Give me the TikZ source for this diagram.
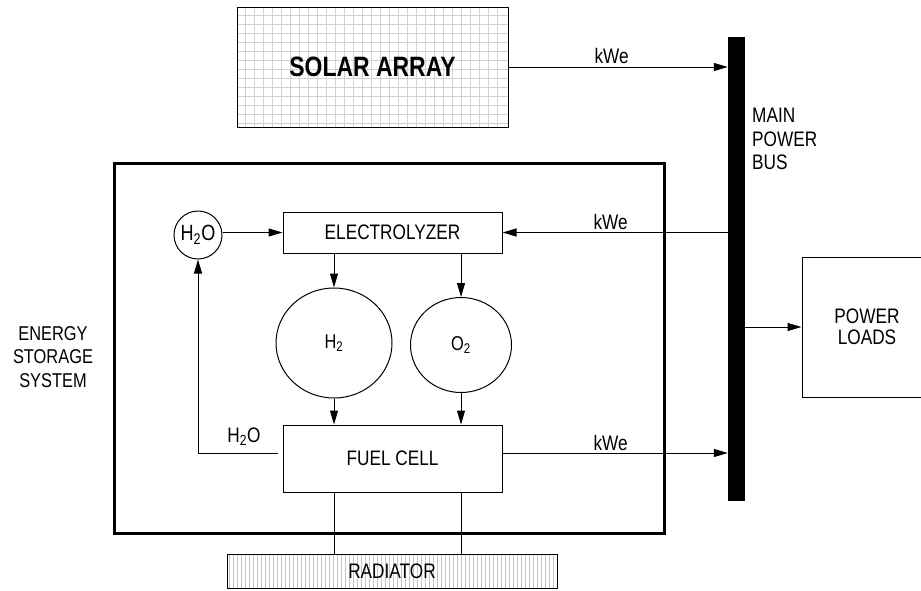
\documentclass[tikz,border=0pt]{standalone}
\usepackage{fontspec}
\setmainfont{Liberation Sans}[FakeStretch=0.82]
\usetikzlibrary{shapes.geometric, arrows.meta, positioning}
\tikzset{
  esblock/.style={rectangle, draw=black, line width=1pt, inner sep=0pt,
                  align=center, font=\fontsize{21}{23.5}\selectfont},
  esgas/.style={ellipse, draw=black, line width=1pt, inner sep=0pt,
                font=\fontsize{20}{22}\selectfont},
  esarrow/.style={-{Triangle[length=14pt,width=8pt]}, line width=1pt},
  eslink/.style={line width=1pt},
  eslabel/.style={inner sep=0pt, font=\fontsize{21}{23.5}\selectfont},
  esgrid/.style={gray!35, line width=0.8pt},
  eshatch/.style={gray!45, line width=0.6pt},
}

\begin{document}
\begin{tikzpicture}[x=1pt, y=-1pt]
  \useasboundingbox (0,0) rectangle (921,590);

  % Solar array
  \foreach \gx in {245,254,...,505} \draw[esgrid] (\gx,7) -- (\gx,127);
  \foreach \gy in {15,24,...,125} \draw[esgrid] (237,\gy) -- (508,\gy);
  \node[esblock, minimum width=271pt, minimum height=120pt,
        font=\fontsize{28}{30}\selectfont\bfseries] (solar) at (372.5,67) {SOLAR ARRAY};

  % Main power bus
  \node[rectangle, fill=black, minimum width=17pt, minimum height=464pt, inner sep=0pt] (bus) at (736.5,269) {};
  \node[eslabel, anchor=north west, align=left] (buslbl) at (752,108) {MAIN\\POWER\\BUS};

  % Power loads
  \node[esblock, minimum width=130pt, minimum height=140pt,
        font=\fontsize{21}{21}\selectfont] (loads) at (867,327) {POWER\\LOADS};

  % Energy storage system
  \node[rectangle, draw, line width=3pt, minimum width=550pt, minimum height=370pt] (ess) at (389,348) {};
  \node[eslabel, align=center, font=\fontsize{20}{23.5}\selectfont] (esslbl) at (53,357) {ENERGY\\STORAGE\\SYSTEM};

  \node[esblock, minimum width=219pt, minimum height=41pt] (elec) at (392.5,232.5) {ELECTROLYZER};
  \node[esblock, minimum width=219pt, minimum height=67pt] (fc) at (392.5,458.5) {FUEL CELL};
  \node[esgas, minimum width=116pt, minimum height=110pt] (h2) at (334,343) {H\textsubscript{2}};
  \node[esgas, minimum width=101pt, minimum height=95pt] (o2) at (461,345) {O\textsubscript{2}};
  \node[esgas, circle, minimum size=48pt, font=\fontsize{22}{24}\selectfont] (water) at (198,235) {H\textsubscript{2}O};

  % Radiator
  \foreach \hx in {229,233,...,555} \draw[eshatch] (\hx,554) -- (\hx,588);
  \node[esblock, minimum width=330pt, minimum height=34pt] (rad) at (392,571) {RADIATOR};

  % Power flows
  \draw[esarrow] (solar.east) -- (solar.east -| bus.west)
    node[eslabel, pos=0.47, above=3pt] (kwe1) {kWe};
  \draw[esarrow] (elec.east -| bus.west) -- (elec.east)
    node[eslabel, pos=0.52, above=2pt] (kwe2) {kWe};
  \coordinate (fcout) at ([yshift=5.5pt]fc.east);
  \coordinate (fcin) at ([yshift=5.5pt,xshift=-5pt]fc.west);
  \draw[esarrow] (fcout) -- (fcout -| bus.west)
    node[eslabel, pos=0.48, above=2pt] (kwe3) {kWe};
  \draw[esarrow] (bus.east |- loads.west) -- (loads.west);

  % Water and gases
  \draw[esarrow] (water.east |- elec.west) -- (elec.west);
  \draw[esarrow] (elec.south -| h2.north) -- (h2.north);
  \draw[esarrow] (elec.south -| o2.north) -- (o2.north);
  \draw[esarrow] (h2.south) -- (h2.south |- fc.north);
  \draw[esarrow] (o2.south) -- (o2.south |- fc.north);
  \draw[esarrow] (fcin) -| (water.south);
  \node[eslabel] (h2olbl) at (244,437) {H\textsubscript{2}O};

  % Heat rejection
  \draw[eslink] (fc.south -| h2.south) -- (rad.north -| h2.south);
  \draw[eslink] (fc.south -| o2.south) -- (rad.north -| o2.south);
\end{tikzpicture}
\end{document}
